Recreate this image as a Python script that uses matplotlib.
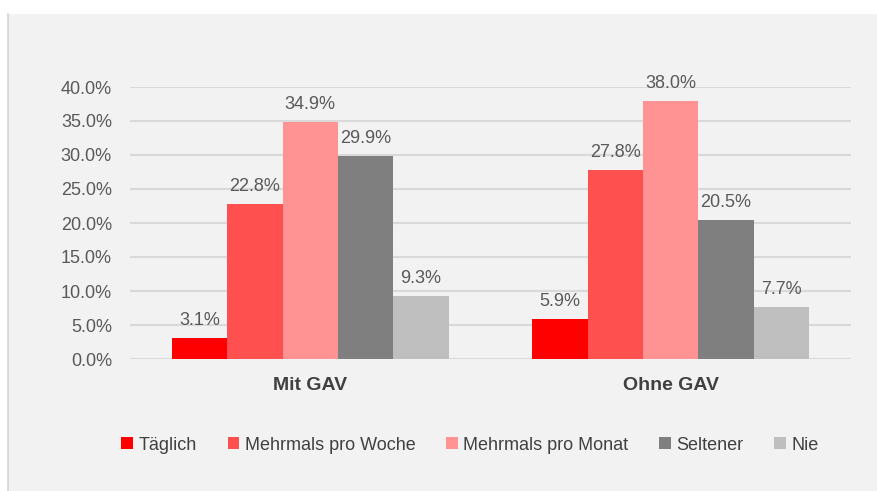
import numpy as np
import matplotlib.pyplot as plt
from matplotlib.patches import Rectangle
from matplotlib.lines import Line2D

groups = ['Mit GAV', 'Ohne GAV']
series = ['Täglich', 'Mehrmals pro Woche', 'Mehrmals pro Monat', 'Seltener', 'Nie']
taeglich = [3.1, 5.9]
woche = [22.8, 27.8]
monat = [34.9, 38.0]
seltener = [29.9, 20.5]
nie = [9.3, 7.7]
values = [taeglich, woche, monat, seltener, nie]
colors = ['#ff0000', '#ff5050', '#ff9393', '#7f7f7f', '#bfbfbf']
yticks = [0, 5, 10, 15, 20, 25, 30, 35, 40]

plt.rcParams['font.family'] = ['Liberation Sans', 'DejaVu Sans']

fig = plt.figure(figsize=(8.77, 4.91), dpi=100)
fig.patch.set_facecolor('white')
# grey panel behind everything
fig.add_artist(Rectangle((8 / 877, 0), 1, 1 - 14 / 491, transform=fig.transFigure,
                         facecolor='#f2f2f2', edgecolor='none', zorder=-10))
fig.add_artist(Line2D([8 / 877, 8 / 877], [0, 1 - 14 / 491], transform=fig.transFigure,
                      color='#d4d4d4', lw=1.2, zorder=-9))

ax = fig.add_axes([130 / 877, 1 - 359 / 491, 721 / 877, 272 / 491])
ax.set_facecolor('none')

x = np.arange(len(groups))
w = 0.768 / len(series)
for i, (name, vals, c) in enumerate(zip(series, values, colors)):
    pos = x + (i - 2) * w
    ax.bar(pos, vals, width=w, color=c, label=name, zorder=3)
    for p, v in zip(pos, vals):
        ax.text(p, v + 1.3, f'{v:.1f}%', ha='center', va='bottom',
                fontsize=13, color='#595959', clip_on=False)

ax.set_xlim(-0.5, 1.5)
ax.set_ylim(0, 40)
ax.set_yticks(yticks)
ax.set_yticklabels([f'{t:.1f}%' for t in yticks], fontsize=13, color='#595959')
ax.set_xticks(x)
ax.set_xticklabels(groups, fontsize=14, fontweight='bold', color='#404040')
ax.tick_params(axis='both', length=0)
ax.tick_params(axis='y', pad=13)
ax.tick_params(axis='x', pad=13)
ax.yaxis.grid(True, color='#d9d9d9', lw=1.5, zorder=0)
ax.set_axisbelow(True)
for s in ax.spines.values():
    s.set_visible(False)

leg = fig.legend(loc='center', bbox_to_anchor=(470 / 877, 1 - 445 / 491), ncol=5,
                 frameon=False, fontsize=13, handlelength=0.65, handleheight=0.65,
                 handletextpad=0.3, columnspacing=1.7)
for t in leg.get_texts():
    t.set_color('#404040')

fig.savefig('out.png', dpi=100)
